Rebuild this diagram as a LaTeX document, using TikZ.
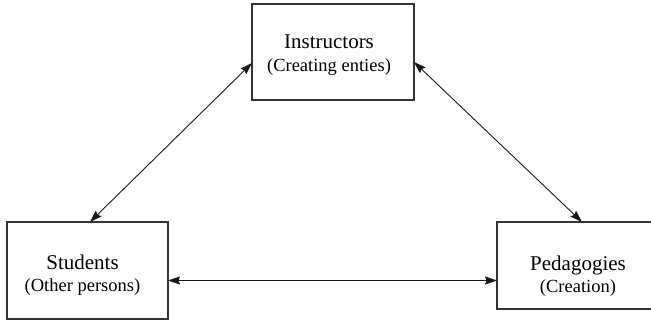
\documentclass[tikz,border=0pt]{standalone}
\usepackage{fontspec}
\setmainfont{Liberation Serif}
\usetikzlibrary{arrows.meta,calc}
\begin{document}
\begin{tikzpicture}[x=1pt,y=-1pt,
  boxstyle/.style={draw=black!80,line width=1.3pt,inner sep=0pt,outer sep=0pt},
  title/.style={font=\fontsize{21}{21}\selectfont,inner sep=0pt,anchor=base},
  sub/.style={font=\fontsize{18.5}{18.5}\selectfont,inner sep=0pt,anchor=base},
  link/.style={line width=0.9pt,draw=black!90,
    {Stealth[length=12pt,width=8pt,inset=1.5pt]}-{Stealth[length=12pt,width=8pt,inset=1.5pt]}}]
\useasboundingbox (0,0) rectangle (651,323);
\clip (0,0) rectangle (651,323);

% boxes
\node[boxstyle,minimum width=162pt,minimum height=96pt] (instr) at (333,52) {};
\node[boxstyle,minimum width=161pt,minimum height=97pt] (stud) at (87.5,270.5) {};
\node[boxstyle,minimum width=170pt,minimum height=87pt] (ped) at (582,265.5) {};

% labels
\node[title] (instrT) at (329,49) {Instructors};
\node[sub]   (instrS) at (329,72) {(Creating enties)};
\node[title] (studT)  at (82.5,270) {Students};
\node[sub]   (studS)  at (82.5,291) {(Other persons)};
\node[title] (pedT)   at (578,271) {Pedagogies};
\node[sub]   (pedS)   at (578,293) {(Creation)};

% connectors
\draw[link] ($(instr.west)+(0,11)$) -- ($(stud.north)+(2.5,0)$);
\draw[link] ($(instr.east)+(0,10)$) -- (ped.north);
\coordinate (h) at ($(stud.east)+(0,10)$);
\draw[link] (h) -- (h -| ped.west);
\end{tikzpicture}
\end{document}
